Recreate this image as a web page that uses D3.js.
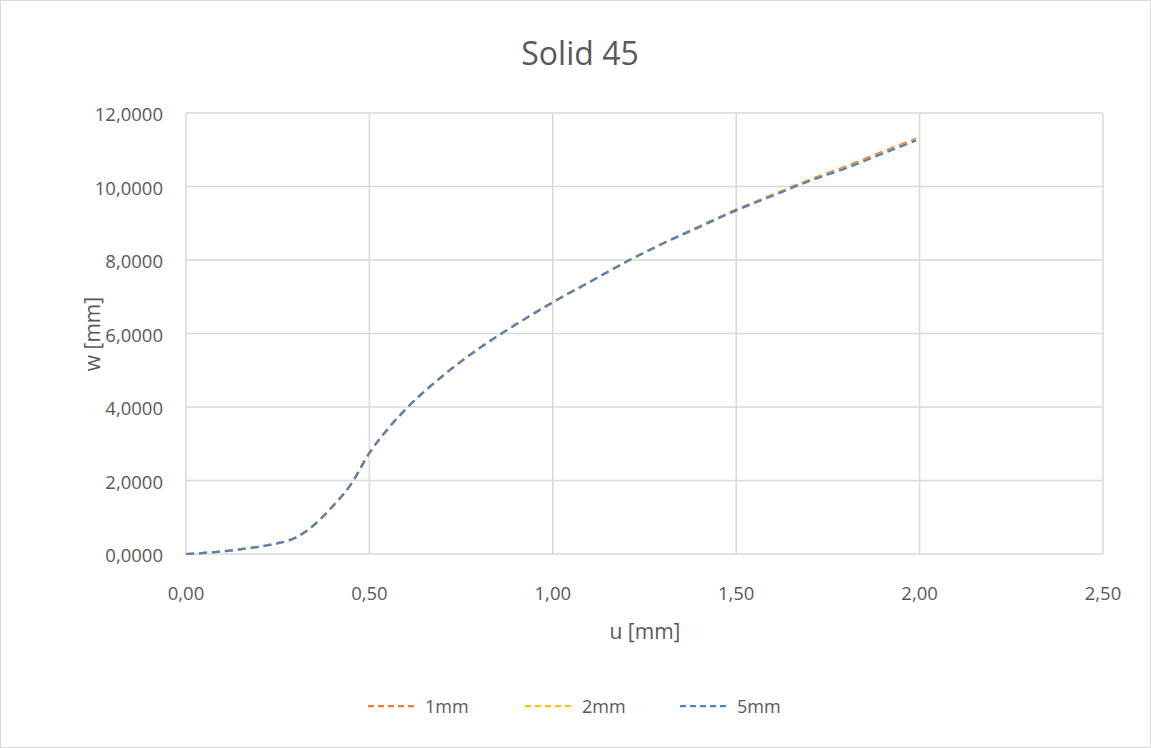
<html>
<head>
<meta charset="utf-8">
<title>Solid 45</title>
<script src="https://cdnjs.cloudflare.com/ajax/libs/d3/7.8.5/d3.min.js"></script>
<style>
  body { margin: 0; background: #fff; }
  text { font-family: "Open Sans", "Noto Sans", sans-serif; fill: #595959; }
</style>
</head>
<body>
<div id="chart"></div>
<script>
  // values
  const u = [0, 0.05, 0.1, 0.15, 0.2, 0.25, 0.3, 0.35, 0.4, 0.45, 0.5, 0.55, 0.6, 0.7, 0.8, 0.9, 1.0, 1.1, 1.2, 1.3, 1.4, 1.5, 1.6, 1.7, 1.8, 1.9, 1.99];
  const w1mm = [0, 0.03, 0.07, 0.13, 0.2, 0.29, 0.45, 0.8, 1.3, 1.9, 2.75, 3.4, 3.95, 4.85, 5.6, 6.25, 6.85, 7.4, 7.95, 8.45, 8.92, 9.37, 9.78, 10.18, 10.55, 10.95, 11.3];
  const w2mm = [0, 0.03, 0.07, 0.13, 0.2, 0.29, 0.45, 0.8, 1.3, 1.9, 2.75, 3.4, 3.95, 4.85, 5.6, 6.25, 6.85, 7.4, 7.95, 8.45, 8.9, 9.35, 9.76, 10.16, 10.52, 10.92, 11.27];
  const w5mm = [0, 0.03, 0.07, 0.13, 0.2, 0.29, 0.45, 0.8, 1.3, 1.9, 2.75, 3.4, 3.95, 4.85, 5.6, 6.25, 6.85, 7.4, 7.95, 8.45, 8.9, 9.35, 9.75, 10.15, 10.5, 10.9, 11.25];
  const seriesNames = ['1mm', '2mm', '5mm'];
  const seriesColors = ['#ED7D31', '#FFC000', '#4F81C9'];
  const xTicks = [0, 0.5, 1, 1.5, 2, 2.5];
  const yTicks = [0, 2, 4, 6, 8, 10, 12];

  const series = [w1mm, w2mm, w5mm].map((vals, i) => ({
    name: seriesNames[i],
    color: seriesColors[i],
    points: vals.map((v, j) => [u[j], v])
  }));

  const width = 1151, height = 748;
  const svg = d3.select('#chart').append('svg')
    .attr('width', width)
    .attr('height', height);

  // outer chart border
  svg.append('rect')
    .attr('x', 0.5).attr('y', 0.5)
    .attr('width', width - 1).attr('height', height - 1)
    .attr('fill', '#fff')
    .attr('stroke', '#D9D9D9');

  const x = d3.scaleLinear().domain([0, 2.5]).range([186, 1103]);
  const y = d3.scaleLinear().domain([0, 12]).range([554, 113]);

  const fmt = (d, n) => d.toFixed(n).replace('.', ',');

  // gridlines
  svg.append('g')
    .selectAll('line')
    .data(yTicks)
    .join('line')
    .attr('x1', x(0)).attr('x2', x(2.5))
    .attr('y1', d => y(d)).attr('y2', d => y(d))
    .attr('stroke', '#D9D9D9')
    .attr('stroke-width', 1.5);

  svg.append('g')
    .selectAll('line')
    .data(xTicks)
    .join('line')
    .attr('x1', d => x(d)).attr('x2', d => x(d))
    .attr('y1', y(0)).attr('y2', y(12))
    .attr('stroke', '#D9D9D9')
    .attr('stroke-width', 1.5);

  // tick labels
  svg.append('g')
    .selectAll('text')
    .data(xTicks)
    .join('text')
    .attr('x', d => x(d))
    .attr('y', 600)
    .attr('text-anchor', 'middle')
    .attr('font-size', '18.5px')
    .text(d => fmt(d, 2));

  svg.append('g')
    .selectAll('text')
    .data(yTicks)
    .join('text')
    .attr('x', 163)
    .attr('y', d => y(d) + 8)
    .attr('text-anchor', 'end')
    .attr('font-size', '18.5px')
    .text(d => fmt(d, 4));

  // axis titles
  svg.append('text')
    .attr('x', 645).attr('y', 639)
    .attr('text-anchor', 'middle')
    .attr('font-size', '21px')
    .text('u [mm]');

  svg.append('text')
    .attr('transform', 'translate(100, 334) rotate(-90)')
    .attr('text-anchor', 'middle')
    .attr('font-size', '21px')
    .text('w [mm]');

  // title
  svg.append('text')
    .attr('x', 580).attr('y', 65)
    .attr('text-anchor', 'middle')
    .attr('font-size', '32px')
    .text('Solid 45');

  // lines
  const line = d3.line()
    .x(d => x(d[0]))
    .y(d => y(d[1]))
    .curve(d3.curveMonotoneX);

  svg.append('g')
    .selectAll('path')
    .data(series)
    .join('path')
    .attr('d', d => line(d.points))
    .attr('fill', 'none')
    .attr('stroke', d => d.color)
    .attr('stroke-width', 2.25)
    .attr('stroke-dasharray', '8,5');

  // legend
  const legendX = [368, 525, 680];
  const legend = svg.append('g')
    .selectAll('g')
    .data(series)
    .join('g')
    .attr('transform', (d, i) => `translate(${legendX[i]}, 706)`);

  legend.append('line')
    .attr('x1', 0).attr('x2', 46)
    .attr('stroke', d => d.color)
    .attr('stroke-width', 2.25)
    .attr('stroke-dasharray', '6,4');

  legend.append('text')
    .attr('x', 57).attr('y', 7)
    .attr('font-size', '18px')
    .text(d => d.name);
</script>
</body>
</html>
